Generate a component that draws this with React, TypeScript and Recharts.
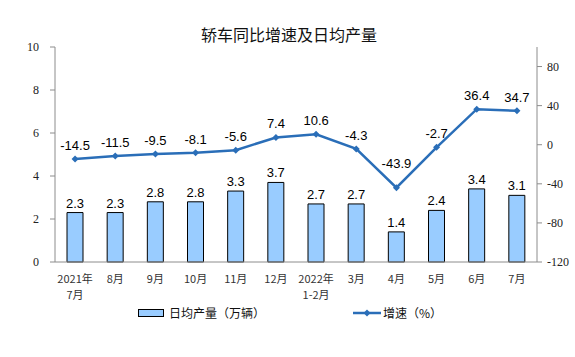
import { Bar, ComposedChart, LabelList, Line, XAxis, YAxis } from "recharts"

const months = ["2021年\n7月", "8月", "9月", "10月", "11月", "12月", "2022年\n1-2月", "3月", "4月", "5月", "6月", "7月"]
const dailyOutput = [2.3, 2.3, 2.8, 2.8, 3.3, 3.7, 2.7, 2.7, 1.4, 2.4, 3.4, 3.1]
const growth = [-14.5, -11.5, -9.5, -8.1, -5.6, 7.4, 10.6, -4.3, -43.9, -2.7, 36.4, 34.7]
const leftTicks = [0, 2, 4, 6, 8, 10]
const rightTicks = [-120, -80, -40, 0, 40, 80]

const data = months.map((m, i) => ({ name: m, output: dailyOutput[i], growth: growth[i] }))

const LINE = "#2A6EB8"
const BAR = "#99CCFF"
const AXIS = "#8c8c8c"
const CJK = '"Noto Sans CJK SC", sans-serif'
const NUM = '"Liberation Sans", Arial, sans-serif'
const SERIF = '"Liberation Serif", serif'

function MonthTick({ x, y, payload }: any) {
  const lines = String(payload.value).split("\n")
  return (
    <text x={x} y={y + 13} textAnchor="middle" fontSize={11} fontFamily={CJK} fill="#333">
      {lines.map((l, i) => (
        <tspan key={i} x={x} dy={i === 0 ? 0 : 16}>
          {l}
        </tspan>
      ))}
    </text>
  )
}

function Diamond({ cx, cy }: any) {
  if (cx == null || cy == null) return null
  const r = 3.5
  return <path d={`M${cx},${cy - r}L${cx + r},${cy}L${cx},${cy + r}L${cx - r},${cy}Z`} fill={LINE} />
}

// the dip label sits higher so it clears the V of the line
function GrowthLabel({ x, y, value }: any) {
  const lift = value < -40 ? 20 : 9
  return (
    <text x={x} y={y - lift} textAnchor="middle" fontSize={13} fontFamily={NUM} fill="#000">
      {value}
    </text>
  )
}

export default function App() {
  return (
    <div style={{ position: "absolute", left: 0, top: 0, width: 575, height: 357, background: "#fff" }}>
      <div
        style={{
          position: "absolute",
          top: 22,
          left: 189,
          width: 200,
          textAlign: "center",
          fontFamily: CJK,
          fontSize: 16,
          color: "#111",
          whiteSpace: "nowrap",
        }}
      >
        轿车同比增速及日均产量
      </div>
      <ComposedChart width={575} height={357} data={data} margin={{ top: 47, right: 0, bottom: 55, left: 0 }}>
        <XAxis
          dataKey="name"
          tick={<MonthTick />}
          tickLine={false}
          axisLine={{ stroke: AXIS }}
          height={40}
          interval={0}
        />
        <YAxis
          yAxisId="left"
          domain={[0, 10]}
          ticks={leftTicks}
          width={55}
          axisLine={{ stroke: AXIS }}
          tickLine={{ stroke: AXIS }}
          tickSize={5}
          tick={{ fontSize: 12, fontFamily: SERIF, fill: "#222", dx: -9 }}
        />
        <YAxis
          yAxisId="right"
          orientation="right"
          domain={[-120, 100]}
          ticks={rightTicks}
          width={38}
          axisLine={{ stroke: AXIS }}
          tickLine={{ stroke: AXIS }}
          tickSize={5}
          tick={{ fontSize: 12, fontFamily: SERIF, fill: "#222", dx: 3 }}
        />
        <Bar yAxisId="left" dataKey="output" fill={BAR} stroke="#000" strokeWidth={1} barSize={16} isAnimationActive={false}>
          <LabelList dataKey="output" position="top" offset={5} fontSize={13} fontFamily={NUM} fill="#000" />
        </Bar>
        <Line
          yAxisId="right"
          dataKey="growth"
          stroke={LINE}
          strokeWidth={2.5}
          dot={<Diamond />}
          activeDot={false}
          isAnimationActive={false}
        >
          <LabelList dataKey="growth" content={<GrowthLabel />} />
        </Line>
      </ComposedChart>
      <div
        style={{
          position: "absolute",
          top: 304,
          left: 138,
          display: "flex",
          alignItems: "center",
          fontFamily: CJK,
          fontSize: 12,
          color: "#111",
        }}
      >
        <span style={{ display: "inline-block", width: 24, height: 6, background: BAR, border: "1px solid #000", marginRight: 5 }} />
        <span>日均产量（万辆）</span>
        <svg width={28} height={10} style={{ marginLeft: 88, marginRight: 2 }}>
          <line x1={0} y1={5} x2={28} y2={5} stroke={LINE} strokeWidth={2.5} />
          <path d="M14,1.5L17.5,5L14,8.5L10.5,5Z" fill={LINE} />
        </svg>
        <span>增速（%）</span>
      </div>
    </div>
  )
}
